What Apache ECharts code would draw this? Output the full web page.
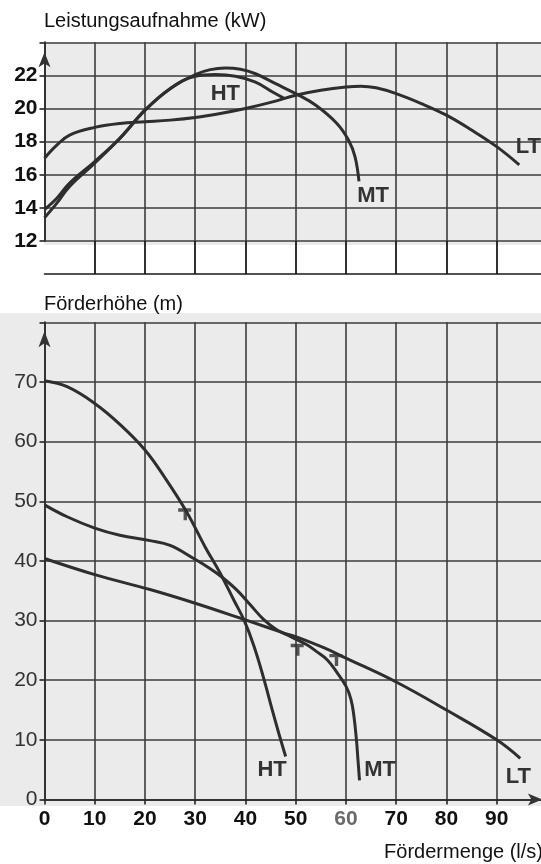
<!DOCTYPE html>
<html><head><meta charset="utf-8">
<script src="https://cdn.jsdelivr.net/npm/echarts@6/dist/echarts.min.js"></script>
<style>html,body{margin:0;padding:0;background:#fff}#c{width:541px;height:864px}</style>
</head><body><div id="c"></div>
<script>
// ---- data ----
const flowTicks = [0, 10, 20, 30, 40, 50, 60, 70, 80, 90];
const powerTicks = [12, 14, 16, 18, 20, 22];
const headTicks = [0, 10, 20, 30, 40, 50, 60, 70];
const curveNames = ['HT', 'MT', 'LT'];

// Leistungsaufnahme (kW) vs Fördermenge (l/s)
const powerHT = [[0,13.9],[2.5,14.6],[5,15.5],[10,16.8],[15,18.2],[20,19.9],[25,21.2],[30,21.95],[34,22.05],[38,21.95],[42,21.6],[45.4,21.0],[47.8,20.6]];
const powerMT = [[0,13.4],[2.5,14.3],[5,15.3],[10,16.7],[15,18.2],[20,19.9],[25,21.2],[30,22.05],[33,22.35],[36,22.45],[39,22.37],[42,22.1],[46,21.5],[50,20.9],[54,20.2],[58.2,19.1],[60.5,18.1],[61.8,17.1],[62.6,15.6]];
const powerLT = [[0,17.0],[2.5,17.8],[5,18.4],[10,18.86],[15,19.1],[20,19.2],[25,19.3],[30,19.46],[35,19.7],[40,20.0],[45.4,20.4],[50,20.8],[55,21.1],[60,21.3],[63,21.35],[66,21.25],[70,20.9],[75,20.3],[80,19.6],[85,18.7],[90,17.7],[94.5,16.6]];

// Förderhöhe (m) vs Fördermenge (l/s)
const headHT = [[0,70.2],[4.5,69.2],[10,66.4],[15,62.9],[20,58.6],[24,53.9],[28.3,48.2],[32,42.3],[35,37.9],[37.7,33.4],[39.7,30.1],[41.7,25.7],[43.7,20.1],[45.3,15.1],[46.7,10.9],[48.0,7.2]];
const headMT = [[0,49.4],[4.5,47.4],[10,45.5],[15,44.3],[21,43.4],[25,42.6],[29.7,40.4],[33,38.7],[35.3,37.3],[38.3,35.1],[41,32.6],[43.7,30.1],[46.3,28.4],[49,27.3],[52.3,25.9],[54.3,24.7],[56.3,23.4],[58.3,21.2],[60,19.0],[61,16.8],[61.6,13.9],[62.1,9.9],[62.4,6.6],[62.7,3.2]];
const headLT = [[0,40.4],[10,37.7],[21,35.2],[30,32.9],[40,30.1],[47.7,27.9],[50,27.3],[55.7,25.4],[60,23.7],[70,19.7],[80,15.0],[90,10.0],[94.7,6.9]];

// small hand marks on the head curves
const headMarks = [[27.9,47.8],[50.3,25.1],[58,23.4]];

// ---- chart ----
const FONT = '"Liberation Sans", Arial, sans-serif';
const INK = '#2e2e2e';
const GRIDC = '#3d3d3d';
const chart = echarts.init(document.getElementById('c'), null, {renderer: 'canvas'});

const gridL = 44.5, gridW = 502.4;
const curveStyle = {color: INK, width: 3};

function curve(name, data, xi, yi, lblCoord) {
  return {
    type: 'line', name, data, xAxisIndex: xi, yAxisIndex: yi,
    smooth: 0.4, symbol: 'none', lineStyle: curveStyle, z: 5,
    markPoint: {
      symbol: 'circle', symbolSize: 0, silent: true,
      label: {show: true, formatter: name, color: '#333', fontFamily: FONT, fontWeight: 'bold', fontSize: 22, position: 'inside'},
      data: [{coord: lblCoord}]
    }
  };
}

const bandColors = ['rgba(0,0,0,0)'].concat(new Array(10).fill('#1a1a1a'));

const option = {
  animation: false,
  backgroundColor: '#fff',
  graphic: [
    {type: 'rect', z: -10, shape: {x: 44, y: 42, width: 497, height: 203}, style: {fill: '#ebebeb'}},
    {type: 'rect', z: -10, shape: {x: 0, y: 313, width: 541, height: 493}, style: {fill: '#ebebeb'}},
    {type: 'text', x: 44, y: 21, style: {text: 'Leistungsaufnahme (kW)', font: '20px ' + FONT, fill: '#111', verticalAlign: 'middle'}},
    {type: 'text', x: 44, y: 304, style: {text: 'Förderhöhe (m)', font: '20px ' + FONT, fill: '#111', verticalAlign: 'middle'}},
    {type: 'text', x: 543, y: 852, style: {text: 'Fördermenge (l/s)', font: '20px ' + FONT, fill: '#111', align: 'right', verticalAlign: 'middle'}}
  ],
  grid: [
    {left: gridL, width: gridW, top: 42.3, height: 198.7, outerBoundsMode: 'none', containLabel: false},
    {left: gridL, width: gridW, top: 241, height: 33, outerBoundsMode: 'none', containLabel: false},
    {left: gridL, width: gridW, top: 322.3, height: 477.2, outerBoundsMode: 'none', containLabel: false}
  ],
  xAxis: [
    {gridIndex: 0, type: 'value', min: 0, max: 100, interval: 10,
     axisLine: {show: false}, axisTick: {show: false}, axisLabel: {show: false},
     splitLine: {show: true, lineStyle: {color: GRIDC, width: 1.6}}},
    {gridIndex: 1, type: 'value', min: 0, max: 100, interval: 10,
     axisLine: {show: true, onZero: false, lineStyle: {color: '#1a1a1a', width: 1.6}}, axisTick: {show: false}, axisLabel: {show: false},
     splitLine: {show: true, lineStyle: {color: bandColors, width: 1.8}}},
    {gridIndex: 2, type: 'value', min: 0, max: 100, interval: 10,
     axisLine: {show: true, onZero: false, symbol: ['none', 'arrow'], symbolSize: [9, 14], symbolOffset: [0, -5], lineStyle: {color: '#333', width: 2}},
     axisTick: {show: true, length: 5, lineStyle: {color: '#222', width: 1.6}},
     axisLabel: {show: true, margin: 9, color: '#111', fontFamily: FONT, fontWeight: 'bold', fontSize: 21,
       formatter: v => flowTicks.includes(v) ? (v === 60 ? '{g|60}' : String(v)) : '',
       rich: {g: {color: '#6a6a6a', fontFamily: FONT, fontWeight: 'bold', fontSize: 21}}},
     splitLine: {show: true, lineStyle: {color: GRIDC, width: 1.6}}}
  ],
  yAxis: [
    {gridIndex: 0, type: 'value', min: 12, max: 24, interval: 2,
     axisLine: {show: true, symbol: ['none', 'arrow'], symbolSize: [9, 15], symbolOffset: [0, -10], lineStyle: {color: '#333', width: 2}},
     axisTick: {show: true, length: 5, lineStyle: {color: '#222', width: 1.6}},
     axisLabel: {margin: 7, color: '#111', fontFamily: FONT, fontWeight: 'bold', fontSize: 21,
       formatter: v => powerTicks.includes(v) ? String(v) : ''},
     splitLine: {show: true, lineStyle: {color: GRIDC, width: 1.6}}},
    {gridIndex: 1, type: 'value', min: 0, max: 1, show: false},
    {gridIndex: 2, type: 'value', min: 0, max: 80, interval: 10,
     axisLine: {show: true, symbol: ['none', 'arrow'], symbolSize: [9, 16], symbolOffset: [0, -9], lineStyle: {color: '#333', width: 2}},
     axisTick: {show: true, length: 5, lineStyle: {color: '#222', width: 1.6}},
     axisLabel: {margin: 7, color: '#333', fontFamily: FONT, fontSize: 21,
       formatter: v => headTicks.includes(v) ? String(v) : ''},
     splitLine: {show: true, lineStyle: {color: GRIDC, width: 1.6}}}
  ],
  series: [
    curve(curveNames[0], powerHT, 0, 0, [36, 20.9]),
    curve(curveNames[1], powerMT, 0, 0, [65.4, 14.7]),
    curve(curveNames[2], powerLT, 0, 0, [96.3, 17.7]),
    curve(curveNames[0], headHT, 2, 2, [45.3, 5.0]),
    curve(curveNames[1], headMT, 2, 2, [66.8, 4.9]),
    curve(curveNames[2], headLT, 2, 2, [94.3, 3.7]),
    {type: 'scatter', xAxisIndex: 2, yAxisIndex: 2, data: headMarks, z: 6, silent: true,
     symbol: 'path://M0,0h13v3.4h-4.2v8.6h-3.4v-8.6h-5.4z', symbolSize: [13, 12],
     itemStyle: {color: INK}}
  ]
};
chart.setOption(option);
</script>
</body></html>
